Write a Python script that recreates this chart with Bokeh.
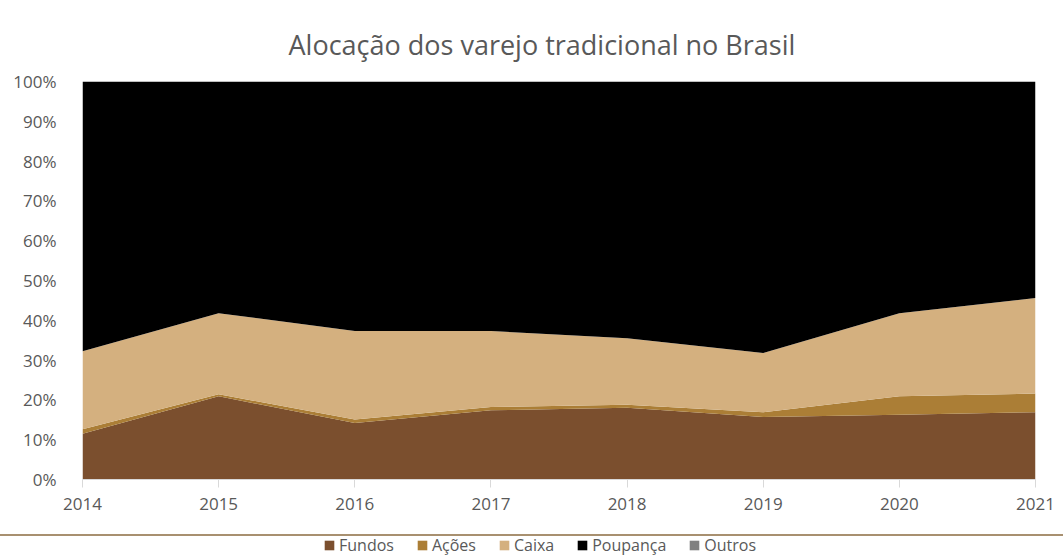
from bokeh.plotting import figure
from bokeh.models import (ColumnDataSource, Legend, LegendItem, NumeralTickFormatter,
                          FixedTicker, Range1d, Div)
from bokeh.layouts import column
from bokeh.embed import file_html
from bokeh.resources import INLINE

years = [2014, 2015, 2016, 2017, 2018, 2019, 2020, 2021]
fundos = [11.5, 20.9, 14.2, 17.4, 18.0, 15.7, 16.3, 16.9]
acoes = [1.1, 0.5, 0.9, 0.8, 0.8, 1.2, 4.6, 4.7]
caixa = [19.6, 20.4, 22.2, 19.1, 16.7, 14.9, 20.9, 24.0]
outros = [0, 0, 0, 0, 0, 0, 0, 0]
poupanca = [100 - a - b - c - d for a, b, c, d in zip(fundos, acoes, caixa, outros)]

names = ["Fundos", "Ações", "Caixa", "Poupança", "Outros"]
colors = ["#7b4f2e", "#ab7e36", "#d4b07f", "#000000", "#808080"]

src = ColumnDataSource(data=dict(
    x=years,
    Fundos=[v / 100 for v in fundos],
    Acoes=[v / 100 for v in acoes],
    Caixa=[v / 100 for v in caixa],
    Poupanca=[v / 100 for v in poupanca],
    Outros=[v / 100 for v in outros],
))
keys = ["Fundos", "Acoes", "Caixa", "Poupanca", "Outros"]

p = figure(width=1063, height=534, output_backend="svg", toolbar_location=None,
           x_range=Range1d(2014, 2021), y_range=Range1d(0, 1),
           min_border_left=82, min_border_right=28, min_border_top=81, min_border_bottom=55,
           title="Alocação dos varejo tradicional no Brasil")
p.title.align = "left"
p.title.offset = 206
p.title.text_font = "Open Sans"
p.title.text_font_size = "27px"
p.title.text_font_style = "normal"
p.title.text_color = "#595959"
p.title.standoff = 38

p.varea_stack(stackers=keys, x="x", color=colors, source=src)

p.xgrid.visible = False
p.ygrid.visible = False
p.outline_line_color = None

p.yaxis.ticker = FixedTicker(ticks=[i / 10 for i in range(11)])
p.yaxis.formatter = NumeralTickFormatter(format="0%")
p.yaxis.axis_line_color = None
p.yaxis.major_tick_line_color = None
p.yaxis.minor_tick_line_color = None
p.yaxis.major_label_text_font = "Open Sans"
p.yaxis.major_label_text_font_size = "17px"
p.yaxis.major_label_text_color = "#595959"
p.yaxis.major_label_standoff = 20

p.xaxis.ticker = FixedTicker(ticks=years)
p.xaxis.axis_line_color = "#d9d9d9"
p.xaxis.major_tick_line_color = "#d9d9d9"
p.xaxis.major_tick_in = 0
p.xaxis.major_tick_out = 8
p.xaxis.minor_tick_line_color = None
p.xaxis.major_label_text_font = "Open Sans"
p.xaxis.major_label_text_font_size = "17px"
p.xaxis.major_label_text_color = "#595959"
p.xaxis.major_label_standoff = 10

sep = Div(text="", width=1063, height=2, margin=0,
          styles={"background-color": "#a89070"})

# legend strip
p2 = figure(width=1063, height=20, output_backend="svg", toolbar_location=None,
            x_range=Range1d(0, 1), y_range=Range1d(0, 1),
            x_axis_location=None, y_axis_location=None,
            min_border=0, min_border_left=0, min_border_right=0,
            min_border_top=0, min_border_bottom=0)
p2.grid.visible = False
p2.outline_line_color = None
dummies = [p2.rect(x="x", y="y", width=0.01, height=0.01, fill_color=c, line_color=None,
                   source=ColumnDataSource(data=dict(x=[-10], y=[-10]))) for c in colors]
items = [LegendItem(label=n, renderers=[r]) for n, r in zip(names, dummies)]
legend = Legend(items=items, orientation="horizontal", location=(241, 0),
                label_text_font="Open Sans", label_text_font_size="16px",
                label_text_color="#595959", glyph_width=12, glyph_height=12,
                label_height=20, spacing=22, label_standoff=4, padding=0, margin=0,
                border_line_color=None, background_fill_alpha=0)
p2.add_layout(legend)

open("out.html", "w").write(file_html(column(p, sep, p2, spacing=0), INLINE))
